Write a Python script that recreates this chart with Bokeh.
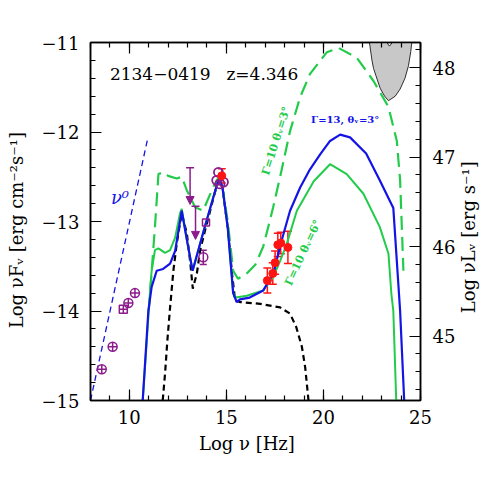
import math
from bokeh.plotting import figure
from bokeh.layouts import row
from bokeh.models import (Range1d, LinearAxis, SingleIntervalTicker, Whisker, TeeHead,
                          ColumnDataSource, Arrow, NormalHead, CustomJSTickFormatter)
from bokeh.embed import file_html
from bokeh.resources import INLINE
from bokeh.core.properties import value

# ---------------- data ----------------
L_OFFSET = 59.28  # Log nuL_nu - Log nuF_nu

nu0_x = [8.0, 10.96]
nu0_y = [-15.0, -12.06]

disk_x = [11.72, 11.84, 11.96, 12.1, 12.27, 12.44, 12.61, 12.7, 12.96, 13.13, 13.27, 13.48, 13.65,
          13.9, 14.2, 14.5, 14.64, 14.8, 15.07, 15.3, 15.45, 15.7, 16.75, 17.77, 18.28, 18.6,
          18.89, 19.06, 19.23]
disk_y = [-15.0, -14.7, -14.33, -13.96, -13.55, -13.25, -13.02, -12.91, -13.13, -13.44, -13.75,
          -13.58, -13.32, -13.1, -12.85, -12.6, -12.53, -12.62, -13.07, -13.6, -13.88, -13.9,
          -13.92, -13.96, -14.03, -14.18, -14.4, -14.63, -15.0]

g6_x = [10.69, 10.88, 11.07, 11.15, 11.32, 11.5, 11.84, 12.1, 12.36, 12.61, 12.7, 12.96, 13.26,
        13.9, 14.5, 14.64, 14.8, 15.07, 15.35, 15.5, 16.05, 16.9, 17.41, 17.77, 18.11, 18.63,
        19.5, 20.34, 21.2, 22.06, 22.9, 23.35, 23.5, 23.6, 23.75]
g6_y = [-15.0, -14.4, -13.77, -13.55, -13.32, -13.3, -13.35, -13.32, -13.18, -12.91, -12.86,
        -13.2, -13.55, -13.05, -12.6, -12.53, -12.62, -13.07, -13.8, -13.85, -13.83, -13.77,
        -13.62, -13.44, -13.25, -12.88, -12.55, -12.36, -12.47, -12.69, -13.06, -13.36, -13.81,
        -14.0, -15.0]

b13_x = [10.69, 10.98, 11.15, 11.41, 11.74, 12.1, 12.36, 12.61, 12.7, 12.96, 13.26, 13.9, 14.5,
         14.64, 14.8, 15.07, 15.35, 15.53, 15.7, 16.2, 16.9, 17.42, 17.85, 18.28, 18.8, 19.3,
         19.83, 20.34, 20.86, 21.37, 22.2, 22.9, 23.6, 23.95, 24.16]
b13_y = [-15.0, -14.0, -13.73, -13.55, -13.53, -13.47, -13.33, -13.0, -12.88, -13.2, -13.55,
         -13.05, -12.6, -12.53, -12.62, -13.07, -13.8, -13.9, -13.87, -13.85, -13.77, -13.58,
         -13.21, -12.88, -12.62, -12.42, -12.25, -12.1, -12.03, -12.06, -12.24, -12.54, -12.85,
         -14.0, -15.0]

g3_x = [11.0, 11.32, 11.5, 11.75, 12.0, 12.44, 12.7, 12.96, 13.39, 13.8, 14.25, 14.5, 14.64,
        14.8, 15.07, 15.35, 15.6, 16.05, 16.5, 16.9, 17.4, 17.77, 18.28, 18.8, 19.31, 20.17,
        20.77, 21.72, 22.58, 23.35, 23.78, 23.95, 24.12]
g3_y = [-14.0, -13.06, -12.47, -12.45, -12.49, -12.52, -12.5, -12.65, -12.84, -12.88, -12.65,
        -12.54, -12.5, -12.62, -13.0, -13.55, -13.64, -13.58, -13.48, -13.28, -12.85, -12.5,
        -11.99, -11.61, -11.35, -11.11, -11.06, -11.17, -11.43, -11.72, -12.1, -12.54, -13.55]

sens_x = [22.3, 22.37, 22.5, 22.58, 22.92, 23.15, 23.35, 23.7, 23.95, 24.2, 24.38, 24.5, 24.6,
          23.8, 23.59, 23.4, 23.23, 23.0]
sens_y = [-10.9, -11.0, -11.2, -11.29, -11.51, -11.6, -11.65, -11.6, -11.52, -11.4, -11.26,
          -11.1, -10.9, -10.9, -10.99, -11.04, -10.99, -10.9]

radio_x = [8.58, 9.14, 9.95, 10.29]
radio_y = [-14.65, -14.40, -13.91, -13.80]
radio_sq_x = [9.69]
radio_sq_y = [-13.98]

opt_x = [14.5, 14.67, 14.85, 14.59]
opt_y = [-12.54, -12.58, -12.56, -12.45]
ir_sq_x = [13.95]
ir_sq_y = [-13.01]
ir_err_x = [13.81]
ir_err_y = [-13.40]
ir_err_e = [0.08]

ul_x = [13.13, 13.41]
ul_top = [-12.40, -12.83]
ul_tip = [-12.81, -13.20]

red_x = [14.76, 17.11, 17.39, 17.51, 17.65, 17.80, 18.17]
red_y = [-12.49, -13.66, -13.58, -13.46, -13.26, -13.24, -13.29]
red_e = [0.08, 0.14, 0.12, 0.13, 0.13, 0.12, 0.18]

right_label = ["Log  \u03bdL\u1d65   [erg s\u207b\u00b9]"]
right_label_y = [-13.08]

BLUE = "#1414e6"
GREEN = "#22cc4a"
PURPLE = "#8c1c8c"
RED = "#ff1414"
FONT = "DejaVu Serif"

p = figure(width=458, height=491, x_range=Range1d(8, 25), y_range=Range1d(-15, -11),
           x_axis_type=None, y_axis_type=None, output_backend="svg", toolbar_location=None,
           min_border_left=90, min_border_right=38, min_border_top=42, min_border_bottom=91)
p.extra_y_ranges = {"L": Range1d(-15 + L_OFFSET, -11 + L_OFFSET)}
p.outline_line_color = "black"
p.outline_line_width = 1.5
p.background_fill_color = "white"
p.border_fill_color = "white"

minus_fmt = "return (tick < 0 ? '\u2212' : '') + Math.abs(tick).toFixed(0);"

def style(ax):
    ax.major_tick_in = 11
    ax.major_tick_out = 0
    ax.minor_tick_in = 5
    ax.minor_tick_out = 0
    ax.axis_line_width = 1.5
    ax.major_tick_line_width = 1.2
    ax.minor_tick_line_width = 1.2
    ax.major_label_text_font = FONT
    ax.major_label_text_font_size = "18px"
    ax.major_label_text_color = "black"
    ax.axis_label_text_font = FONT
    ax.axis_label_text_font_size = "18px"
    ax.axis_label_text_font_style = "normal"
    ax.axis_label_text_color = "black"

xb = LinearAxis(ticker=SingleIntervalTicker(interval=5, num_minor_ticks=5),
                axis_label="Log  \u03bd   [Hz]")
style(xb)
xb.major_label_standoff = 9
xb.axis_label_standoff = 6
p.add_layout(xb, "below")

xt = LinearAxis(ticker=SingleIntervalTicker(interval=5, num_minor_ticks=5),
                formatter=CustomJSTickFormatter(code="return '';"))
style(xt)
p.add_layout(xt, "above")

yl = LinearAxis(ticker=SingleIntervalTicker(interval=1, num_minor_ticks=5),
                formatter=CustomJSTickFormatter(code=minus_fmt),
                axis_label="Log  \u03bdF\u1d65   [erg cm\u207b\u00b2s\u207b\u00b9]")
style(yl)
yl.major_label_standoff = 11
yl.axis_label_standoff = 12
p.add_layout(yl, "left")

yr = LinearAxis(y_range_name="L", ticker=SingleIntervalTicker(interval=1, num_minor_ticks=5))
style(yr)
yr.major_label_standoff = 12
p.add_layout(yr, "right")

# sensitivity region
p.patch(sens_x, sens_y, fill_color="#c8c8c8", line_color="black", line_width=0.8)

# model curves
p.line(disk_x, disk_y, line_color="black", line_width=2.2, line_dash="6 4")
p.line(g3_x, g3_y, line_color=GREEN, line_width=2.2, line_dash="14 7")
p.line(g6_x, g6_y, line_color=GREEN, line_width=2.0)
p.line(b13_x, b13_y, line_color=BLUE, line_width=2.2)
p.line(nu0_x, nu0_y, line_color=BLUE, line_width=1.3, line_dash="6 4")

# data points
p.scatter(radio_x, radio_y, marker="circle_cross", size=9, fill_color=None,
          line_color=PURPLE, line_width=1.5)
p.scatter(radio_sq_x, radio_sq_y, marker="square_cross", size=8, fill_color=None,
          line_color=PURPLE, line_width=1.5)
p.scatter(ir_sq_x, ir_sq_y, marker="square", size=7, fill_color=None,
          line_color=PURPLE, line_width=1.5)

ir_src = ColumnDataSource(dict(x=ir_err_x, y=ir_err_y,
                               lo=[a - b for a, b in zip(ir_err_y, ir_err_e)],
                               hi=[a + b for a, b in zip(ir_err_y, ir_err_e)]))
p.add_layout(Whisker(source=ir_src, base="x", upper="hi", lower="lo", dimension="height",
                     line_color=PURPLE, line_width=1.5,
                     upper_head=TeeHead(size=7, line_color=PURPLE, line_width=1.5),
                     lower_head=TeeHead(size=7, line_color=PURPLE, line_width=1.5)))
p.scatter(ir_err_x, ir_err_y, marker="circle", size=9, fill_color=None,
          line_color=PURPLE, line_width=1.5)

p.scatter(opt_x, opt_y, marker="circle", size=9, fill_color=None,
          line_color=PURPLE, line_width=1.8)

ul_src = ColumnDataSource(dict(x=ul_x, y0=ul_top, y1=ul_tip))
p.add_layout(Arrow(source=ul_src, x_start="x", y_start="y0", x_end="x", y_end="y1",
                   line_color=PURPLE, line_width=1.5,
                   start=TeeHead(size=8, line_color=PURPLE, line_width=1.5),
                   end=NormalHead(size=8, fill_color=PURPLE, line_color=PURPLE)))

red_src = ColumnDataSource(dict(x=red_x, y=red_y,
                                lo=[a - b for a, b in zip(red_y, red_e)],
                                hi=[a + b for a, b in zip(red_y, red_e)]))
p.add_layout(Whisker(source=red_src, base="x", upper="hi", lower="lo", dimension="height",
                     line_color=RED, line_width=1.5,
                     upper_head=TeeHead(size=8, line_color=RED, line_width=1.5),
                     lower_head=TeeHead(size=8, line_color=RED, line_width=1.5)))
p.scatter(red_x, red_y, marker="circle", size=8, fill_color=RED, line_color=RED)

# texts
p.text(x=[9.0, 15.0], y=[-11.35, -11.35], text=["2134\u22120419", "z=4.346"],
       text_font=value(FONT), text_font_size="17px", text_color="black",
       text_align="left", text_baseline="middle")
p.text(x=[9.52], y=[-12.73], text=["\u03bd\u2070"], text_font=value(FONT),
       text_font_size="18px", text_color=BLUE, text_font_style="italic",
       text_align="center", text_baseline="middle")
p.text(x=[21.12], y=[-11.86], text=["\u0393=13, \u03b8\u1d65=3\u00b0"], text_font=value(FONT),
       text_font_size="10px", text_font_style="bold", text_color=BLUE,
       text_align="center", text_baseline="middle")
p.text(x=[17.56], y=[-12.10], text=["\u0393=10 \u03b8\u1d65=3\u00b0"], text_font=value(FONT),
       text_font_size="11px", text_font_style="bold", text_color=GREEN,
       angle=math.radians(72.5), text_align="center", text_baseline="middle")
p.text(x=[18.95], y=[-13.35], text=["\u0393=10 \u03b8\u1d65=6\u00b0"], text_font=value(FONT),
       text_font_size="11px", text_font_style="bold", text_color=GREEN,
       angle=math.radians(65), text_align="center", text_baseline="middle")

# narrow strip on the right holding the right-hand axis title (reads bottom to top)
q = figure(width=33, height=491, x_range=Range1d(0, 33), y_range=Range1d(-15, -11),
           x_axis_type=None, y_axis_type=None, output_backend="svg", toolbar_location=None,
           min_border_left=0, min_border_right=0, min_border_top=42, min_border_bottom=91)
q.outline_line_color = None
q.background_fill_color = "white"
q.border_fill_color = "white"
q.text(x=[10], y=right_label_y, text=right_label, text_font=value(FONT),
       text_font_size="18px", text_color="black", angle=math.pi / 2,
       text_align="center", text_baseline="middle")

layout = row(p, q)
open("out.html", "w").write(file_html(layout, INLINE))
